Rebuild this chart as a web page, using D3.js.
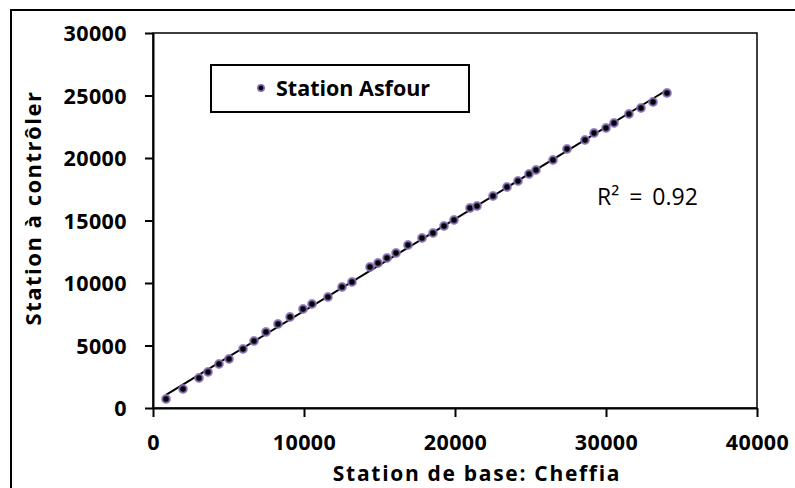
<!DOCTYPE html>
<html>
<head>
<meta charset="utf-8">
<script src="https://cdn.jsdelivr.net/npm/d3@7/dist/d3.min.js"></script>
<style>
  html, body { margin: 0; padding: 0; background: #fff; }
  svg { display: block; }
  text { font-family: "Open Sans", Lato, sans-serif; }
</style>
</head>
<body>
<script>
// ---- data ----
const baseStation = [861, 1987, 3046, 3642, 4371, 5033, 5960, 6689, 7483, 8278, 9073, 9934, 10530, 11589, 12517, 13179, 14371, 14901, 15497, 16093, 16887, 17815, 18543, 19272, 19934, 20993, 21457, 22517, 23444, 24172, 24901, 25364, 26490, 27417, 28609, 29205, 30000, 30530, 31523, 32318, 33113, 34040];
const controlStation = [720, 1520, 2400, 2880, 3520, 3920, 4720, 5360, 6080, 6720, 7280, 7920, 8320, 8880, 9680, 10080, 11280, 11600, 12000, 12400, 13040, 13600, 14000, 14560, 15040, 16000, 16160, 16960, 17680, 18160, 18720, 19040, 19840, 20720, 21440, 22000, 22400, 22800, 23520, 24000, 24480, 25200];
const xTicks = [0, 10000, 20000, 30000, 40000];
const yTicks = [0, 5000, 10000, 15000, 20000, 25000, 30000];
const seriesName = "Station Asfour";
const xTitle = "Station de base: Cheffia";
const yTitle = "Station à contrôler";
const r2Label = "R² = 0.92";

const W = 795, H = 488;
const plot = { left: 153, top: 33, right: 757, bottom: 408 };

const svg = d3.select("body").append("svg").attr("width", W).attr("height", H);

// outer frame
svg.append("rect").attr("x", 11).attr("y", 10).attr("width", 800).attr("height", 500)
  .attr("fill", "#fff").attr("stroke", "#000").attr("stroke-width", 2);

const x = d3.scaleLinear().domain([0, 40000]).range([plot.left, plot.right]);
const y = d3.scaleLinear().domain([0, 30000]).range([plot.bottom, plot.top]);

// plot area border
svg.append("rect").attr("x", plot.left).attr("y", plot.top)
  .attr("width", plot.right - plot.left).attr("height", plot.bottom - plot.top)
  .attr("fill", "none").attr("stroke", "#000").attr("stroke-width", 1.5);

// axes
const xAxis = svg.append("g").attr("transform", `translate(0,${plot.bottom})`)
  .call(d3.axisBottom(x).tickValues(xTicks).tickFormat(d3.format("d")).tickSizeInner(9).tickSizeOuter(0).tickPadding(18));
const yAxis = svg.append("g").attr("transform", `translate(${plot.left},0)`)
  .call(d3.axisLeft(y).tickValues(yTicks).tickFormat(d3.format("d")).tickSizeInner(8).tickSizeOuter(0).tickPadding(18));
[xAxis, yAxis].forEach(g => {
  g.select(".domain").attr("stroke", "#000").attr("stroke-width", 2);
  g.selectAll(".tick line").attr("stroke", "#000").attr("stroke-width", 2);
  g.selectAll(".tick text").attr("fill", "#000").attr("font-size", 21.5).attr("font-weight", "bold")
    .attr("letter-spacing", 0.4)
    .style("font-family", "'Open Sans', sans-serif");
});
yAxis.selectAll(".tick text").attr("dy", "0.35em");

// regression
const data = baseStation.map((v, i) => ({ x: v, y: controlStation[i] }));
const mx = d3.mean(data, d => d.x), my = d3.mean(data, d => d.y);
const sxy = d3.sum(data, d => (d.x - mx) * (d.y - my));
const sxx = d3.sum(data, d => (d.x - mx) ** 2);
const slope = sxy / sxx, icpt = my - slope * mx;
const [x0, x1] = d3.extent(baseStation);
svg.append("line")
  .attr("x1", x(x0)).attr("y1", y(icpt + slope * x0))
  .attr("x2", x(x1)).attr("y2", y(icpt + slope * x1))
  .attr("stroke", "#000").attr("stroke-width", 2);

// points
svg.append("g").selectAll("circle").data(data).join("circle")
  .attr("cx", d => x(d.x)).attr("cy", d => y(d.y)).attr("r", 3.8)
  .attr("fill", "#000").attr("stroke", "#8c6fbf").attr("stroke-width", 2.2).attr("stroke-opacity", 0.8);

// legend
svg.append("rect").attr("x", 211).attr("y", 65).attr("width", 258).attr("height", 47)
  .attr("fill", "#fff").attr("stroke", "#000").attr("stroke-width", 2);
svg.append("circle").attr("cx", 261).attr("cy", 88).attr("r", 3.2)
  .attr("fill", "#000").attr("stroke", "#8c6fbf").attr("stroke-width", 1.6);
svg.append("text").attr("x", 276).attr("y", 96).attr("font-size", 21.5).attr("font-weight", "bold")
  .text(seriesName);

// R² label
svg.append("text").attr("x", 597).attr("y", 205).attr("font-size", 23).attr("word-spacing", 4)
  .text(r2Label);

// axis titles
svg.append("text").attr("x", 477).attr("y", 481).attr("text-anchor", "middle")
  .attr("font-size", 21).attr("font-weight", "bold").attr("letter-spacing", 1.7).text(xTitle);
svg.append("text").attr("transform", `translate(41,208) rotate(-90)`).attr("text-anchor", "middle")
  .attr("font-size", 22).attr("font-weight", "bold").attr("letter-spacing", 1.5).text(yTitle);
</script>
</body>
</html>
